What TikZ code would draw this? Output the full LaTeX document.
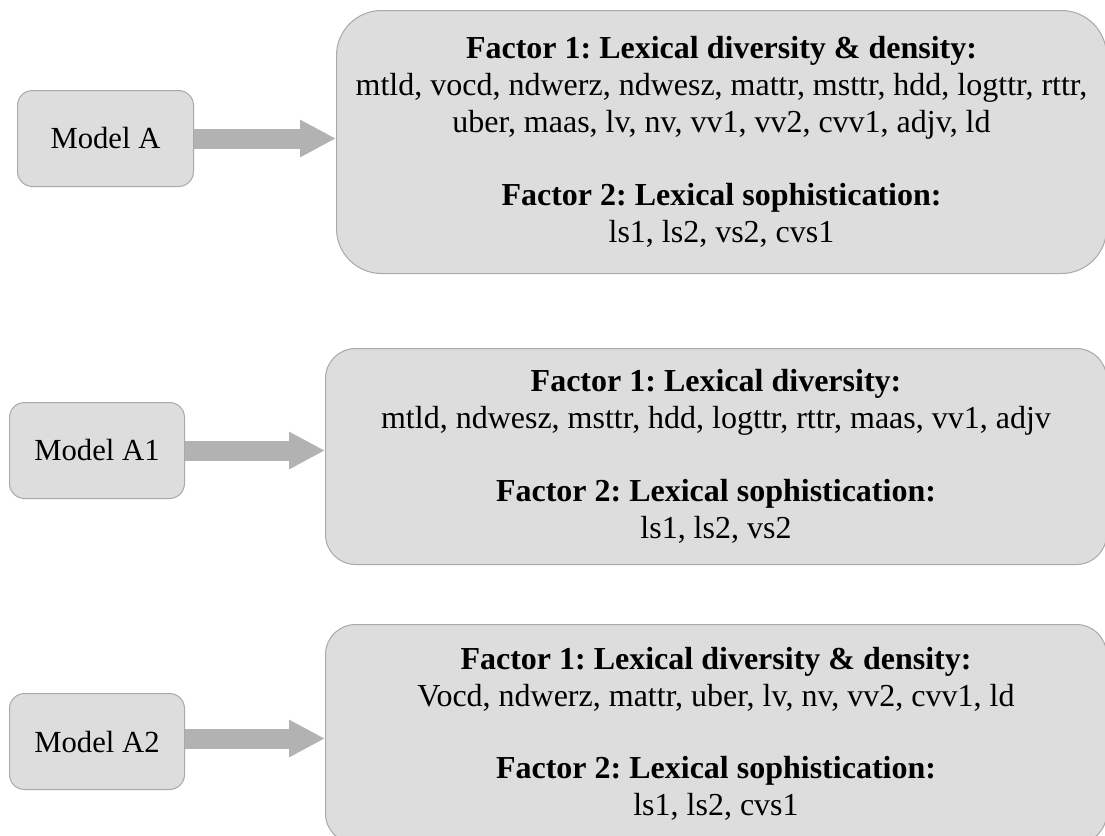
\documentclass[tikz,border=0pt]{standalone}
\usepackage{fontspec}
\setmainfont{Liberation Serif}
\usetikzlibrary{arrows.meta}
\definecolor{boxfill}{HTML}{DDDDDD}
\definecolor{boxline}{HTML}{A9A9A9}
\definecolor{arrowfill}{HTML}{B2B2B2}
\frenchspacing
\begin{document}
\begin{tikzpicture}[x=0.75pt,y=-0.75pt,
  model/.style={draw=boxline, fill=boxfill, line width=0.75pt,
    rounded corners=11.25pt, anchor=north west, inner sep=0pt,
    align=center, font=\fontsize{23}{27.75}\selectfont},
  factors/.style={model, rounded corners=22.5pt,
    font=\fontsize{24}{27.75}\selectfont},
  flow/.style={draw=arrowfill, line width=15pt,
    -{Triangle[length=27pt,width=26.25pt]}}]
\useasboundingbox (0,0) rectangle (1105,835);

% model boxes
\node[model, minimum width=132pt, minimum height=72pt] (mA) at (17,90) {Model A};
\node[model, minimum width=131.25pt, minimum height=72pt] (mA1) at (9,402) {Model A1};
\node[model, minimum width=131.25pt, minimum height=72pt] (mA2) at (9,693) {Model A2};

% factor boxes
\node[factors, rounded corners=33.75pt, minimum width=577.5pt, minimum height=197.25pt] (fA) at (336,10)
  {\textbf{Factor 1: Lexical diversity \& density:}\\
   mtld, vocd, ndwerz, ndwesz, mattr, msttr, hdd, logttr, rttr,\\
   uber, maas, lv, nv, vv1, vv2, cvv1, adjv, ld\\[26.5pt]
   \textbf{Factor 2: Lexical sophistication:}\\
   ls1, ls2, vs2, cvs1};
\node[factors, minimum width=585.75pt, minimum height=162pt] (fA1) at (325,348)
  {\textbf{Factor 1: Lexical diversity:}\\
   mtld, ndwesz, msttr, hdd, logttr, rttr, maas, vv1, adjv\\[26.5pt]
   \textbf{Factor 2: Lexical sophistication:}\\
   ls1, ls2, vs2};
\node[factors, minimum width=585.75pt, minimum height=164.25pt] (fA2) at (325,624)
  {\textbf{Factor 1: Lexical diversity \& density:}\\
   Vocd, ndwerz, mattr, uber, lv, nv, vv2, cvv1, ld\\[26.5pt]
   \textbf{Factor 2: Lexical sophistication:}\\
   ls1, ls2, cvs1};

% block arrows
\draw[flow] (mA.east) -- (mA.east -| fA.west);
\draw[flow] (mA1.east) -- (mA1.east -| fA1.west);
\draw[flow] ([yshift=2.25pt]mA2.east) -- ([yshift=2.25pt]mA2.east -| fA2.west);
\end{tikzpicture}
\end{document}
